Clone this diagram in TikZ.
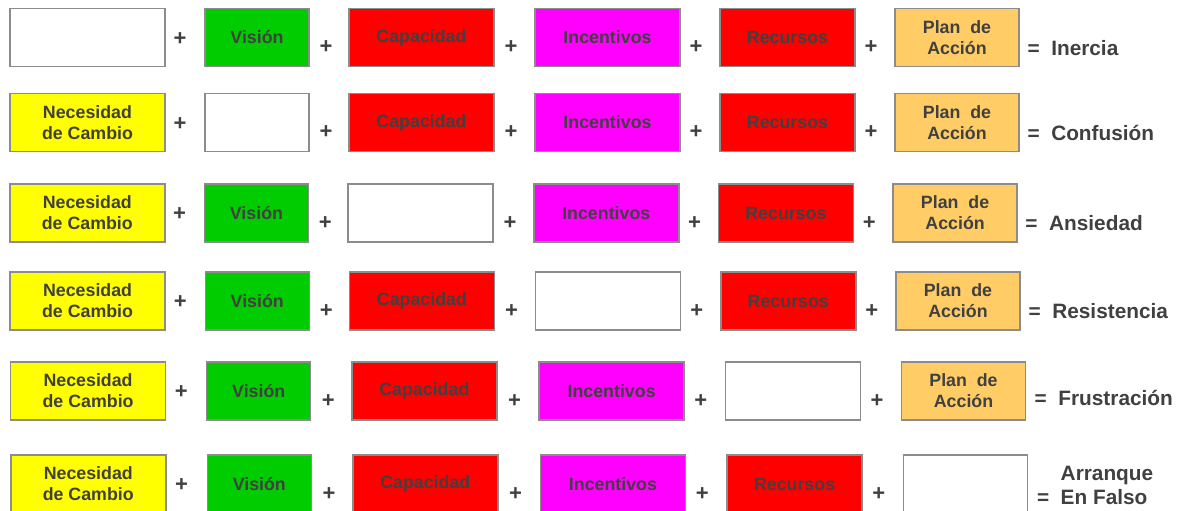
\documentclass[tikz,border=0pt]{standalone}
\usepackage{fontspec}
\setmainfont{Liberation Sans}
\definecolor{ink}{HTML}{404040}
\definecolor{cellline}{HTML}{8C8C8C}
\definecolor{needyellow}{HTML}{FFFF00}
\definecolor{visiongreen}{HTML}{00CC00}
\definecolor{capred}{HTML}{FF0000}
\definecolor{incmagenta}{HTML}{FF00FF}
\definecolor{planorange}{HTML}{FFCC66}
\begin{document}
\begin{tikzpicture}[
  x=0.75pt, y=-0.75pt,
  cell/.style = {draw=cellline, line width=1.1pt, minimum height=43.5pt, inner sep=0pt,
                 align=center, text=ink, font=\bfseries\fontsize{13.35}{15.75}\selectfont},
  needbox/.style = {cell, fill=needyellow},
  visionbox/.style = {cell, fill=visiongreen},
  capbox/.style = {cell, fill=capred},
  incbox/.style = {cell, fill=incmagenta},
  resbox/.style = {cell, fill=capred},
  planbox/.style = {cell, fill=planorange},
  emptybox/.style = {cell, fill=white},
  plus/.style = {text=ink, inner sep=0pt, font=\bfseries\fontsize{16.5}{18}\selectfont},
  result/.style = {text=ink, anchor=west, align=left, inner sep=0pt,
                   font=\bfseries\fontsize{15.6}{18}\selectfont}
]
  \useasboundingbox (0,0) rectangle (1180,510);
  % one row per missing factor
  \foreach \r/\yc/\sx/\miss/\ry/\res in {
      1/37.5/1/1/48/{\llap{=\ \ }Inercia},
      2/122.5/1/2/133/{\llap{=\ \ }Confusión},
      3/213/0.998/3/223/{\llap{=\ \ }Ansiedad},
      4/301/1.001/4/311/{\llap{=\ \ }Resistencia},
      5/391/1.0068/5/398/{\llap{=\ \ }Frustración},
      6/484/1.009/6/485/{Arranque\\\llap{=\ \ }En Falso}} {
    % factors
    \foreach \k/\cx/\bw/\kind/\txt in {
        1/87.5/155/needbox/{Necesidad\\de Cambio},
        2/257/104/visionbox/{Visión},
        3/421.5/145/capbox/{Capacidad},
        4/607.5/145/incbox/{Incentivos},
        5/787.5/135/resbox/{Recursos},
        6/957/124/planbox/{Plan~~de\\Acción}} {
      \ifnum\k=\miss \def\kind{emptybox}\def\txt{}\fi
      \node[\kind, minimum width=\bw*0.75pt] (r\r-\k) at ({\cx*\sx},\yc) {\txt};
    }
    % plus signs
    \foreach \k/\px in {1/180, 2/326, 3/511, 4/696, 5/871}
      \node[plus] (r\r-p\k) at ({\px*\sx},{\yc+(\k==1 ? 1.5 : 10)}) {+};
    % outcome
    \node[result] (r\r-res) at ({1051*\sx},\ry) {\res};
  }
\end{tikzpicture}
\end{document}
